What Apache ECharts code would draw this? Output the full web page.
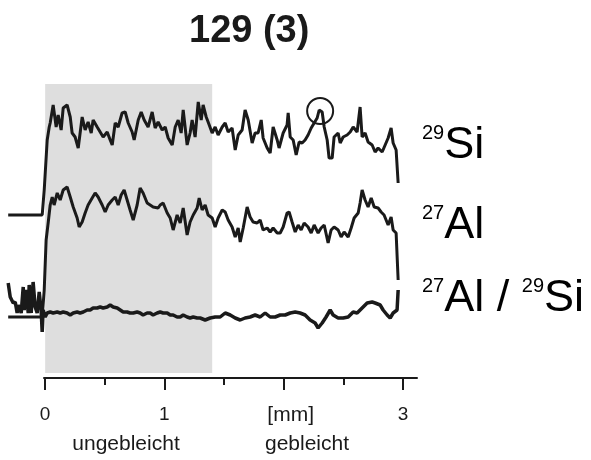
<!DOCTYPE html>
<html>
<head>
<meta charset="utf-8">
<script src="https://cdn.jsdelivr.net/npm/echarts@6/dist/echarts.min.js"></script>
<style>
  html, body { margin: 0; padding: 0; background: #fff; }
  #main { width: 591px; height: 460px; }
</style>
</head>
<body>
<div id="main"></div>
<script>
// 位置 [mm] / 信号 (beliebige Einheit)
var siData = [
  [-0.31, 163], [-0.025, 163], [-0.008, 188], [0.017, 238], [0.034, 251], [0.042, 255], [0.067, 273],
  [0.092, 251], [0.109, 263], [0.134, 248], [0.151, 270], [0.184, 273], [0.210, 261], [0.226, 245],
  [0.251, 241], [0.277, 230], [0.310, 261], [0.335, 248], [0.360, 256], [0.386, 245], [0.402, 258],
  [0.436, 251], [0.461, 246], [0.486, 241], [0.520, 246], [0.545, 238], [0.562, 233], [0.587, 255],
  [0.612, 251], [0.645, 265], [0.671, 266], [0.696, 255], [0.729, 246], [0.746, 238], [0.780, 258],
  [0.805, 266], [0.830, 258], [0.863, 251], [0.897, 266], [0.922, 250], [0.947, 256], [0.981, 248],
  [1.006, 251], [1.031, 240], [1.065, 233], [1.090, 251], [1.115, 258], [1.140, 245], [1.157, 268],
  [1.190, 233], [1.215, 245], [1.232, 258], [1.257, 241], [1.283, 276], [1.308, 258], [1.324, 273],
  [1.350, 261], [1.366, 256], [1.400, 245], [1.425, 251], [1.450, 243], [1.484, 251], [1.509, 255],
  [1.534, 246], [1.567, 250], [1.593, 228], [1.618, 243], [1.651, 248], [1.676, 268], [1.702, 258],
  [1.735, 235], [1.760, 245], [1.785, 245], [1.811, 258], [1.827, 240], [1.861, 230], [1.886, 225],
  [1.911, 251], [1.945, 238], [1.961, 230], [1.995, 245], [2.028, 253], [2.037, 265], [2.054, 241],
  [2.079, 238], [2.104, 223], [2.129, 236], [2.154, 235], [2.179, 238], [2.204, 243], [2.230, 250],
  [2.246, 248], [2.280, 260], [2.297, 268], [2.322, 266], [2.339, 251], [2.364, 238], [2.380, 220],
  [2.406, 220], [2.422, 241], [2.456, 245], [2.473, 235], [2.498, 241], [2.531, 243], [2.557, 246],
  [2.582, 251], [2.615, 246], [2.640, 271], [2.657, 241], [2.682, 245], [2.707, 236], [2.741, 233],
  [2.766, 226], [2.791, 230], [2.825, 226], [2.850, 233], [2.875, 240], [2.900, 250], [2.917, 235],
  [2.942, 228], [2.959, 195]
];
var alData = [
  [-0.31, 61], [-0.025, 61], [-0.008, 88], [0.008, 138], [0.025, 155], [0.042, 173], [0.059, 181],
  [0.075, 173], [0.101, 185], [0.126, 178], [0.151, 188], [0.184, 191], [0.210, 181], [0.235, 171],
  [0.268, 160], [0.285, 151], [0.310, 156], [0.335, 165], [0.360, 173], [0.394, 180], [0.419, 185],
  [0.444, 181], [0.478, 173], [0.503, 166], [0.528, 173], [0.562, 178], [0.587, 181], [0.612, 173],
  [0.637, 183], [0.662, 188], [0.687, 178], [0.712, 168], [0.738, 158], [0.771, 173], [0.796, 190],
  [0.821, 185], [0.855, 175], [0.880, 173], [0.905, 171], [0.947, 170], [0.964, 173], [0.989, 175],
  [1.023, 165], [1.048, 160], [1.073, 148], [1.106, 163], [1.132, 155], [1.157, 170], [1.190, 143],
  [1.215, 156], [1.241, 163], [1.274, 170], [1.291, 180], [1.316, 168], [1.341, 173], [1.366, 163],
  [1.400, 160], [1.425, 151], [1.450, 160], [1.484, 168], [1.509, 166], [1.534, 158], [1.567, 151],
  [1.593, 141], [1.618, 150], [1.635, 136], [1.660, 150], [1.693, 171], [1.718, 161], [1.743, 156],
  [1.777, 155], [1.802, 158], [1.827, 148], [1.861, 150], [1.886, 146], [1.911, 150], [1.945, 145],
  [1.970, 145], [1.995, 151], [2.028, 165], [2.045, 166], [2.070, 156], [2.096, 146], [2.121, 153],
  [2.146, 148], [2.171, 155], [2.204, 151], [2.230, 145], [2.255, 153], [2.288, 145], [2.313, 150],
  [2.339, 153], [2.372, 135], [2.397, 148], [2.422, 151], [2.456, 148], [2.481, 141], [2.506, 146],
  [2.540, 141], [2.565, 150], [2.590, 160], [2.624, 165], [2.640, 175], [2.657, 188], [2.682, 178],
  [2.707, 171], [2.733, 180], [2.758, 171], [2.791, 170], [2.816, 166], [2.841, 163], [2.875, 153],
  [2.900, 161], [2.917, 148], [2.942, 145], [2.959, 98]
];
var ratioData = [
  [-0.31, 95], [-0.293, 81], [-0.268, 75], [-0.251, 76], [-0.235, 65], [-0.226, 73], [-0.201, 65],
  [-0.184, 91], [-0.176, 68], [-0.159, 88], [-0.142, 65], [-0.134, 93], [-0.117, 65], [-0.101, 96],
  [-0.084, 71], [-0.067, 65], [-0.050, 86], [-0.034, 68], [-0.025, 46], [-0.017, 68], [0, 61],
  [0.017, 65], [0.042, 66], [0.067, 65], [0.101, 66], [0.126, 65], [0.151, 66], [0.184, 65],
  [0.210, 63], [0.235, 65], [0.268, 66], [0.293, 65], [0.319, 66], [0.352, 68], [0.377, 68],
  [0.402, 70], [0.436, 70], [0.461, 71], [0.486, 70], [0.520, 71], [0.545, 73], [0.570, 71],
  [0.604, 70], [0.629, 68], [0.654, 66], [0.687, 66], [0.712, 65], [0.738, 65], [0.771, 66],
  [0.796, 65], [0.821, 63], [0.855, 65], [0.880, 65], [0.905, 63], [0.939, 65], [0.964, 66],
  [0.989, 65], [1.023, 65], [1.048, 63], [1.073, 63], [1.106, 61], [1.132, 61], [1.157, 63],
  [1.190, 61], [1.215, 60], [1.241, 61], [1.274, 60], [1.299, 60], [1.341, 58], [1.383, 60],
  [1.425, 61], [1.467, 61], [1.509, 65], [1.551, 63], [1.593, 60], [1.635, 58], [1.676, 60],
  [1.718, 61], [1.760, 63], [1.802, 61], [1.844, 65], [1.886, 61], [1.928, 61], [1.970, 63],
  [2.012, 63], [2.054, 65], [2.096, 66], [2.137, 65], [2.179, 63], [2.221, 58], [2.263, 55],
  [2.288, 50], [2.322, 55], [2.355, 61], [2.389, 68], [2.414, 63], [2.456, 60], [2.498, 60],
  [2.540, 61], [2.582, 66], [2.615, 65], [2.657, 70], [2.699, 75], [2.741, 76], [2.766, 75],
  [2.808, 73], [2.833, 68], [2.867, 63], [2.892, 60], [2.917, 65], [2.950, 68], [2.959, 88]
];
var peakMark = [[2.305, 267]];           // Kreis um den Si-Peak
var bleachRange = [0, 1.4];              // ungebleichter Bereich [mm]
var majorTicks = [0, 1, 2, 3];
var minorTicks = [0.5, 1.5, 2.5];
var tickText = ['0', '1', '[mm]', '3'];

var ink = '#1a1a1a';
var font = 'Liberation Sans, Arial, sans-serif';

var myChart = echarts.init(document.getElementById('main'));

function isoLabel(mass, el) {
  return '{s|' + mass + '}{b|' + el + '}';
}
var isoRich = {
  s: { fontSize: 20, lineHeight: 20, verticalAlign: 'top', fontFamily: font, color: ink },
  b: { fontSize: 45, lineHeight: 45, fontFamily: font, color: ink }
};

var option = {
  backgroundColor: '#fff',
  animation: false,
  title: {
    text: '129 (3)',
    left: 184,
    top: 8,
    textStyle: { fontSize: 38, fontWeight: 'bold', fontFamily: font, color: ink }
  },
  grid: [
    { left: 7, width: 410, top: 84, bottom: 82 },
    { left: 44, width: 373, top: 84, bottom: 82 }
  ],
  xAxis: [
    { gridIndex: 0, type: 'value', min: -0.32, max: 3.117, show: false },
    {
      gridIndex: 1, type: 'value', min: -0.0084, max: 3.117, position: 'bottom',
      axisLine: { lineStyle: { color: ink, width: 2 } },
      axisTick: { customValues: majorTicks, length: 12, lineStyle: { color: ink, width: 2 } },
      splitLine: { show: false },
      axisLabel: {
        customValues: majorTicks,
        margin: 27,
        formatter: function (v) {
          var t = tickText[majorTicks.indexOf(v)];
          return v === 2 ? '{mm|' + t + '}' : '{n|' + t + '}';
        },
        rich: {
          n: { fontSize: 19, fontFamily: font, color: ink },
          mm: { fontSize: 21, fontFamily: font, color: ink, padding: [0, 0, 0, 14] }
        }
      }
    },
    {
      gridIndex: 1, type: 'value', min: -0.0084, max: 3.117, position: 'bottom',
      axisLine: { show: false },
      axisTick: { customValues: minorTicks, length: 7, lineStyle: { color: ink, width: 2 } },
      axisLabel: { show: false },
      splitLine: { show: false }
    }
  ],
  yAxis: [
    { gridIndex: 0, type: 'value', min: 0, max: 294, show: false },
    { gridIndex: 1, type: 'value', min: 0, max: 294, show: false }
  ],
  graphic: [
    { type: 'text', left: 422, top: 123, style: { text: isoLabel('29', 'Si'), rich: isoRich } },
    { type: 'text', left: 422, top: 203, style: { text: isoLabel('27', 'Al'), rich: isoRich } },
    { type: 'text', left: 422, top: 276,
      style: { text: isoLabel('27', 'Al / ') + isoLabel('29', 'Si'), rich: isoRich } },
    { type: 'text', x: 126, y: 434,
      style: { text: 'ungebleicht', fontSize: 21, fontFamily: font, fill: ink, align: 'center' } },
    { type: 'text', x: 307, y: 434,
      style: { text: 'gebleicht', fontSize: 21, fontFamily: font, fill: ink, align: 'center' } }
  ],
  series: [
    {
      name: '29Si', type: 'line', xAxisIndex: 0, yAxisIndex: 0,
      data: siData, showSymbol: false, symbol: 'none',
      lineStyle: { color: ink, width: 3 },
      markArea: {
        silent: true,
        itemStyle: { color: '#dedede' },
        data: [[{ xAxis: bleachRange[0], yAxis: 5 }, { xAxis: bleachRange[1], yAxis: 294 }]]
      },
      z: 3
    },
    {
      name: '27Al', type: 'line', xAxisIndex: 0, yAxisIndex: 0,
      data: alData, showSymbol: false, symbol: 'none',
      lineStyle: { color: ink, width: 3 }, z: 3
    },
    {
      name: '27Al/29Si', type: 'line', xAxisIndex: 0, yAxisIndex: 0,
      data: ratioData, showSymbol: false, symbol: 'none',
      lineStyle: { color: ink, width: 3.5 }, z: 3
    },
    {
      name: 'peak', type: 'scatter', xAxisIndex: 0, yAxisIndex: 0,
      data: peakMark, symbol: 'circle', symbolSize: 26,
      itemStyle: { color: 'rgba(0,0,0,0)', borderColor: ink, borderWidth: 2, opacity: 1 },
      z: 4
    }
  ]
};

myChart.setOption(option);
</script>
</body>
</html>
